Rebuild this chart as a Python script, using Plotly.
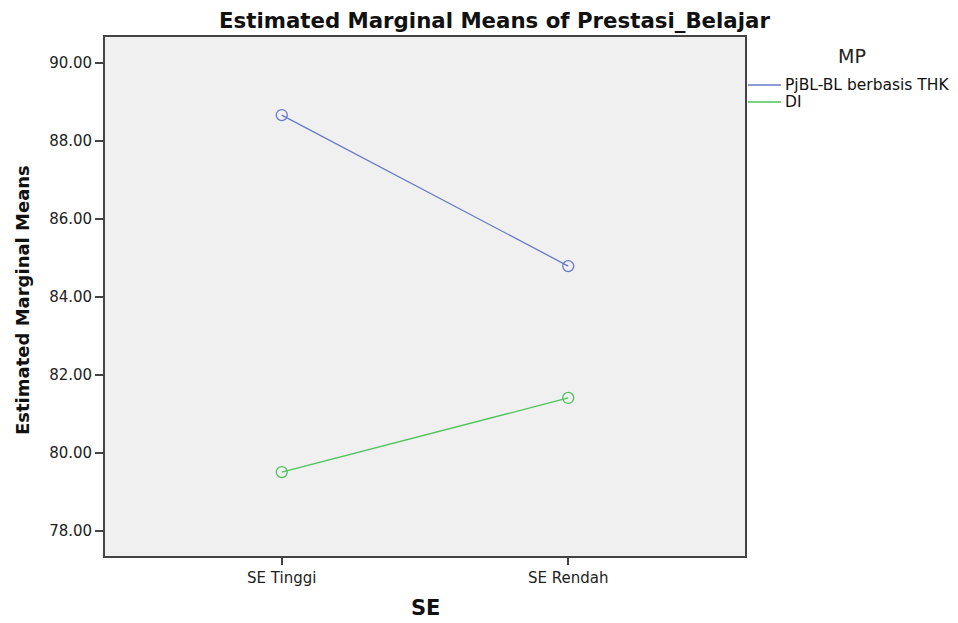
import plotly.graph_objects as go

categories = ["SE Tinggi", "SE Rendah"]
series_names = ["PjBL-BL berbasis THK", "DI"]
pjbl_values = [88.66, 84.79]
di_values = [79.51, 81.41]
y_tickvals = [78, 80, 82, 84, 86, 88, 90]
y_ticktext = ["78.00", "80.00", "82.00", "84.00", "86.00", "88.00", "90.00"]

colors = ["#6779c9", "#4cc35a"]
FONT = "DejaVu Sans, Arial, sans-serif"

# the page body has an 8px margin; work in page pixels and offset
OFF = 8
W, H = 958 - OFF, 623 - OFF
PL, PR, PT, PB = 105, 745, 37, 556  # plot box in page pixels
L, T = PL - OFF, PT - OFF
R, B = W - (PR - OFF), H - (PB - OFF)
PW, PH = PR - PL, PB - PT


def px_x(x):
    return (x - PL) / PW


def px_y(y):
    return (PB - y) / PH


fig = go.Figure()
for name, vals, col in zip(series_names, [pjbl_values, di_values], colors):
    fig.add_trace(go.Scatter(
        x=categories, y=vals, name=name, mode="lines+markers",
        line=dict(color=col, width=1.3),
        marker=dict(symbol="circle-open", size=11, color=col, line=dict(width=1.3, color=col)),
        showlegend=False,
    ))

shapes = []
annotations = [
    dict(text="<b>Estimated Marginal Means of Prestasi_Belajar</b>", xref="paper", yref="paper",
         x=px_x(494), y=px_y(21), xanchor="center", yanchor="middle", showarrow=False,
         borderpad=0, font=dict(family=FONT, size=21.3, color="#111")),
    dict(text="<b>Estimated Marginal Means</b>", xref="paper", yref="paper",
         x=px_x(22), y=px_y(300), xanchor="center", yanchor="middle", showarrow=False,
         textangle=-90, font=dict(family=FONT, size=18, color="#111")),
    dict(text="<b>SE</b>", xref="paper", yref="paper",
         x=px_x(425), y=px_y(608), xanchor="center", yanchor="middle", showarrow=False,
         font=dict(family=FONT, size=21, color="#111")),
    dict(text="MP", xref="paper", yref="paper", x=px_x(852), y=px_y(56),
         xanchor="center", yanchor="middle", showarrow=False,
         font=dict(family=FONT, size=19, color="#222")),
]
legend_ys = [85, 102]
for name, col, ly in zip(series_names, colors, legend_ys):
    shapes.append(dict(type="line", xref="paper", yref="paper",
                       x0=px_x(748), x1=px_x(781), y0=px_y(ly), y1=px_y(ly),
                       line=dict(color=col, width=1.3)))
    annotations.append(dict(text=name, xref="paper", yref="paper", x=px_x(783), y=px_y(ly),
                            xanchor="left", yanchor="middle", showarrow=False,
                            font=dict(family=FONT, size=15.5, color="#111")))

fig.update_layout(
    width=W, height=H,
    margin=dict(l=L, r=R, t=T, b=B, autoexpand=False),
    paper_bgcolor="white",
    plot_bgcolor="#f0f0f0",
    font=dict(family=FONT, size=15, color="#222"),
    showlegend=False,
    shapes=shapes,
    annotations=annotations,
    xaxis=dict(
        type="category", range=[-0.617, 1.617], automargin=False,
        showline=True, linecolor="#444", linewidth=1.8, mirror=True,
        ticks="outside", ticklen=7, tickcolor="#444", tickwidth=1.8,
        showgrid=False, zeroline=False,
        tickfont=dict(family=FONT, size=15, color="#222"),
    ),
    yaxis=dict(
        range=[77.36, 90.66], automargin=False,
        tickvals=y_tickvals, ticktext=y_ticktext,
        showline=True, linecolor="#444", linewidth=1.8, mirror=True,
        ticks="outside", ticklen=8, tickcolor="#444", tickwidth=1.8,
        showgrid=False, zeroline=False,
        tickfont=dict(family=FONT, size=15, color="#222"),
    ),
)

fig.write_html("out.html")
